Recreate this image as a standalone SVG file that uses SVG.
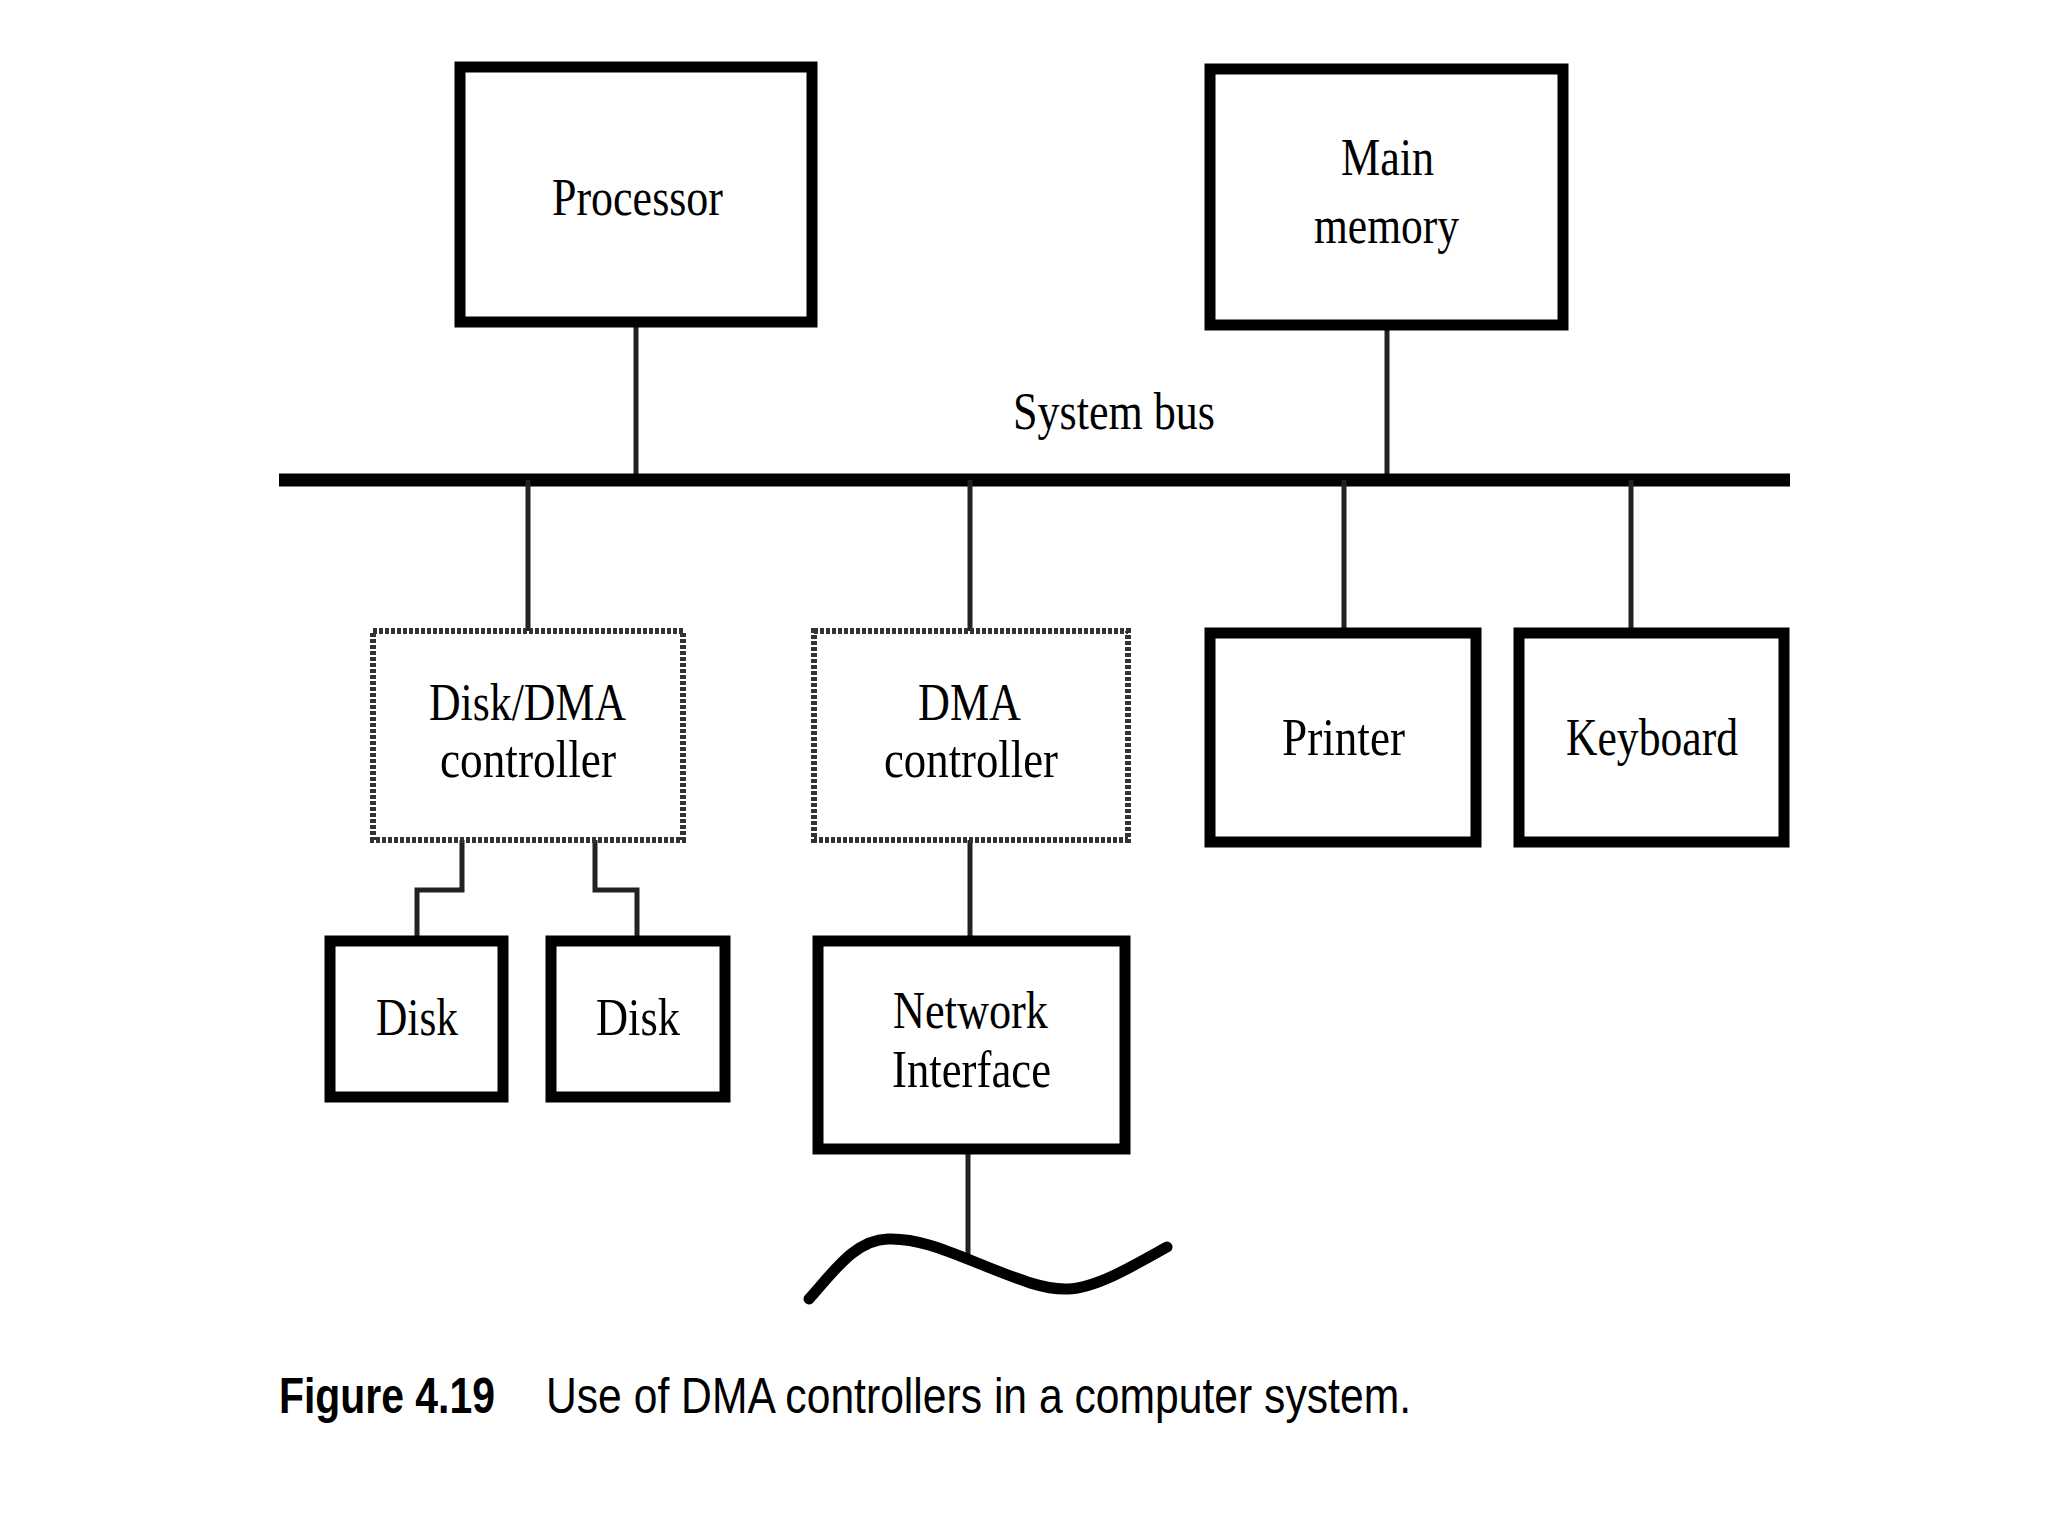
<svg xmlns="http://www.w3.org/2000/svg" width="2048" height="1536" viewBox="0 0 2048 1536">
<style>
.box{fill:#fff;stroke:#000;stroke-width:11}
.dbox{fill:#fff;stroke:#333;stroke-width:6;stroke-dasharray:4 2}
.lbl{font-family:"Liberation Serif","Times New Roman",serif;font-size:52px;fill:#000}
.con{fill:none;stroke:#222;stroke-width:5}
.cap{font-family:"Liberation Sans",Arial,sans-serif;font-size:50px;fill:#000}
</style>
<rect width="2048" height="1536" fill="#fff"/>
<g id="connectors">
<line class="con" x1="636" y1="322" x2="636" y2="480"/>
<line class="con" x1="1387" y1="325" x2="1387" y2="480"/>
<line x1="279" y1="480" x2="1790" y2="480" stroke="#000" stroke-width="13"/>
<line class="con" x1="528" y1="480" x2="528" y2="631"/>
<line class="con" x1="970" y1="480" x2="970" y2="631"/>
<line class="con" x1="1344" y1="480" x2="1344" y2="633"/>
<line class="con" x1="1631" y1="480" x2="1631" y2="633"/>
<polyline class="con" points="462,840 462,890 417,890 417,941"/>
<polyline class="con" points="595,840 595,890 637,890 637,941"/>
<line class="con" x1="970" y1="840" x2="970" y2="941"/>
<line class="con" x1="968" y1="1149" x2="968" y2="1258"/>
<path d="M809,1299 C835,1270 855,1240 888,1239 C920,1238 950,1252 985,1266 C1020,1280 1045,1290 1068,1289 C1095,1288 1130,1268 1167,1247" fill="none" stroke="#000" stroke-width="11" stroke-linecap="round"/>
</g>
<g id="processor">
<rect class="box" x="460" y="67" width="352" height="255"/>
<text class="lbl" x="552" y="215" textLength="171" lengthAdjust="spacingAndGlyphs">Processor</text>
</g>
<g id="main-memory">
<rect class="box" x="1210" y="69" width="353" height="256"/>
<text class="lbl" x="1341" y="175" textLength="93" lengthAdjust="spacingAndGlyphs">Main</text>
<text class="lbl" x="1314" y="243" textLength="145" lengthAdjust="spacingAndGlyphs">memory</text>
</g>
<g id="system-bus-label">
<text class="lbl" x="1013" y="429" textLength="202" lengthAdjust="spacingAndGlyphs">System bus</text>
</g>
<g id="disk-dma-controller">
<rect class="dbox" x="373" y="631" width="310" height="209"/>
<text class="lbl" x="429" y="720" textLength="197" lengthAdjust="spacingAndGlyphs">Disk/DMA</text>
<text class="lbl" x="440" y="777" textLength="176" lengthAdjust="spacingAndGlyphs">controller</text>
</g>
<g id="dma-controller">
<rect class="dbox" x="814" y="631" width="314" height="209"/>
<text class="lbl" x="918" y="720" textLength="103" lengthAdjust="spacingAndGlyphs">DMA</text>
<text class="lbl" x="884" y="777" textLength="174" lengthAdjust="spacingAndGlyphs">controller</text>
</g>
<g id="printer">
<rect class="box" x="1210" y="633" width="266" height="209"/>
<text class="lbl" x="1282" y="755" textLength="123" lengthAdjust="spacingAndGlyphs">Printer</text>
</g>
<g id="keyboard">
<rect class="box" x="1519" y="633" width="265" height="209"/>
<text class="lbl" x="1566" y="755" textLength="172" lengthAdjust="spacingAndGlyphs">Keyboard</text>
</g>
<g id="disk1">
<rect class="box" x="330" y="941" width="173" height="156"/>
<text class="lbl" x="376" y="1035" textLength="82" lengthAdjust="spacingAndGlyphs">Disk</text>
</g>
<g id="disk2">
<rect class="box" x="551" y="941" width="174" height="156"/>
<text class="lbl" x="596" y="1035" textLength="84" lengthAdjust="spacingAndGlyphs">Disk</text>
</g>
<g id="network-interface">
<rect class="box" x="818" y="941" width="307" height="208"/>
<text class="lbl" x="893" y="1028" textLength="155" lengthAdjust="spacingAndGlyphs">Network</text>
<text class="lbl" x="892" y="1087" textLength="159" lengthAdjust="spacingAndGlyphs">Interface</text>
</g>
<g id="caption">
<text class="cap" x="279" y="1413" font-weight="bold" textLength="216" lengthAdjust="spacingAndGlyphs">Figure 4.19</text>
<text class="cap" x="546" y="1413" textLength="865" lengthAdjust="spacingAndGlyphs">Use of DMA controllers in a computer system.</text>
</g>
</svg>
